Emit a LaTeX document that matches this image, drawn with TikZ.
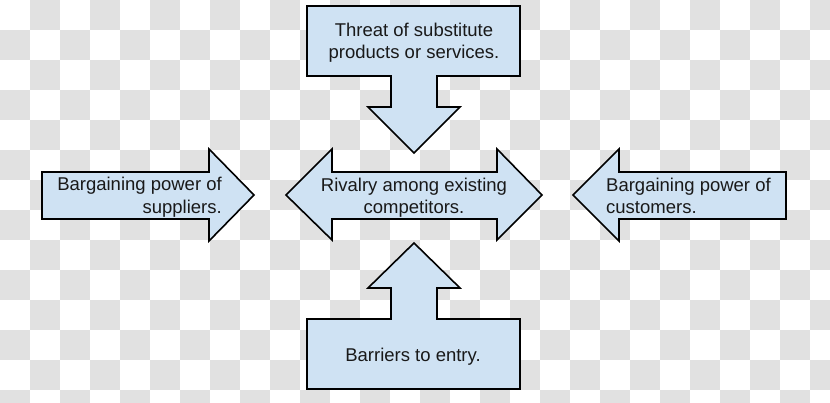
\documentclass[tikz,border=0pt]{standalone}
\usepackage{fontspec}
\setmainfont{Liberation Sans}
\definecolor{boxfill}{RGB}{207,226,243}
\definecolor{checker}{RGB}{225,225,225}
\definecolor{txt}{RGB}{25,25,25}
\begin{document}
\begin{tikzpicture}[x=1pt,y=-1pt,
  shapeA/.style={draw=black,fill=boxfill,line width=1.6pt,line join=miter},
  lbl/.style={inner sep=0pt,anchor=base,text=txt,font=\fontsize{18.5}{22}\selectfont}]
\useasboundingbox (0,0) rectangle (830,402);
\begin{scope}
\clip (0,0) rectangle (830,402);
\fill[white] (0,0) rectangle (830,402);
\foreach \j in {0,2,...,12}{\foreach \i in {1,3,...,27}{\fill[checker] (\i*30,\j*30) rectangle +(30,30);}}
\foreach \j in {1,3,...,13}{\foreach \i in {0,2,...,26}{\fill[checker] (\i*30,\j*30) rectangle +(30,30);}}
\end{scope}
% top arrow (down)
\draw[shapeA] (307,6) -- (520,6) -- (520,76) -- (437,76) -- (437,107) -- (460,107)
  -- (414,153) -- (368,107) -- (391,107) -- (391,76) -- (307,76) -- cycle;
% bottom arrow (up)
\draw[shapeA] (307,389) -- (520,389) -- (520,319) -- (437,319) -- (437,288) -- (460,288)
  -- (414,243) -- (368,288) -- (391,288) -- (391,319) -- (307,319) -- cycle;
% left arrow (right)
\draw[shapeA] (42,172) -- (209,172) -- (209,149) -- (254,195) -- (209,241) -- (209,219) -- (42,219) -- cycle;
% right arrow (left)
\draw[shapeA] (786,172) -- (619,172) -- (619,149) -- (573,195) -- (619,241) -- (619,219) -- (786,219) -- cycle;
% middle double arrow
\draw[shapeA] (286,195) -- (332,149) -- (332,172) -- (497,172) -- (497,149) -- (542,195)
  -- (497,240) -- (497,219) -- (332,219) -- (332,240) -- cycle;
% labels
\node[lbl] (t1) at (414,36) {Threat of substitute};
\node[lbl] (t2) at (414,58) {products or services.};
\node[lbl,anchor=base east] (l1) at (222,190) {Bargaining power of};
\node[lbl,anchor=base east] (l2) at (222,213) {suppliers.};
\node[lbl] (m1) at (414,191) {Rivalry among existing};
\node[lbl] (m2) at (414,213) {competitors.};
\node[lbl,anchor=base west] (r1) at (606,191) {Bargaining power of};
\node[lbl,anchor=base west] (r2) at (606,213) {customers.};
\node[lbl] (b1) at (413,361) {Barriers to entry.};
\end{tikzpicture}
\end{document}
